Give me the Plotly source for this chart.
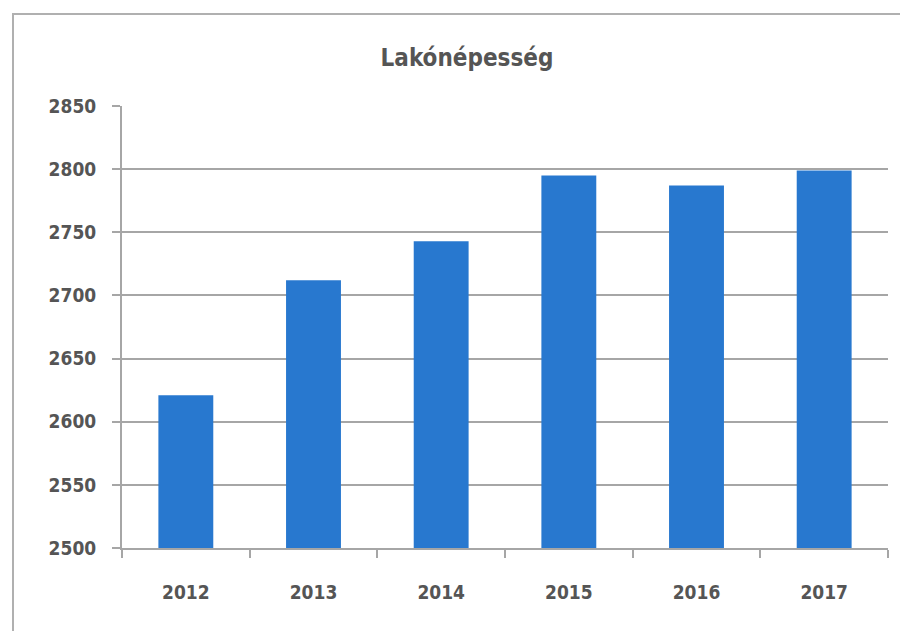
import plotly.graph_objects as go

years = ["2012", "2013", "2014", "2015", "2016", "2017"]
population = [2621, 2712, 2743, 2795, 2787, 2799]
y_ticks = [2500, 2550, 2600, 2650, 2700, 2750, 2800, 2850]

fig = go.Figure(go.Bar(x=years, y=population, marker=dict(color="#2878CF", line=dict(width=0))))

font_family = "DejaVu Sans Condensed, Liberation Sans Narrow, Arial Narrow, sans-serif"

fig.update_layout(
    width=908, height=631,
    paper_bgcolor="white", plot_bgcolor="white",
    margin=dict(l=114, r=28, t=98, b=91),
    bargap=0.57,
    showlegend=False,
    title=dict(text="<b>Lakónépesség</b>", x=0.5055, xanchor="center", y=0.921, yanchor="middle",
               font=dict(family=font_family, size=24, color="#555555")),
    font=dict(family=font_family, color="#555555"),
    shapes=[dict(type="rect", xref="paper", yref="paper", x0=-0.1423, x1=1.042, y0=-0.208, y1=1.208,
                 line=dict(color="#b0b0b0", width=2))],
)
fig.update_yaxes(range=[2500, 2850], tickvals=y_ticks, showgrid=True, gridcolor="#a6a6a6", gridwidth=2,
                 showline=True, linecolor="#a6a6a6", linewidth=2, ticks="outside", ticklen=8,
                 tickcolor="#a6a6a6", tickwidth=2, ticklabelstandoff=12,
                 tickfont=dict(size=19, color="#555555", weight="bold"), zeroline=False)
fig.update_xaxes(type="category", showline=True, linecolor="#a6a6a6", linewidth=2, ticks="outside",
                 tickson="boundaries", ticklen=8, tickcolor="#a6a6a6", tickwidth=2,
                 ticklabelstandoff=26, tickfont=dict(size=19, color="#555555", weight="bold"), showgrid=False)

fig.write_html("out.html")
